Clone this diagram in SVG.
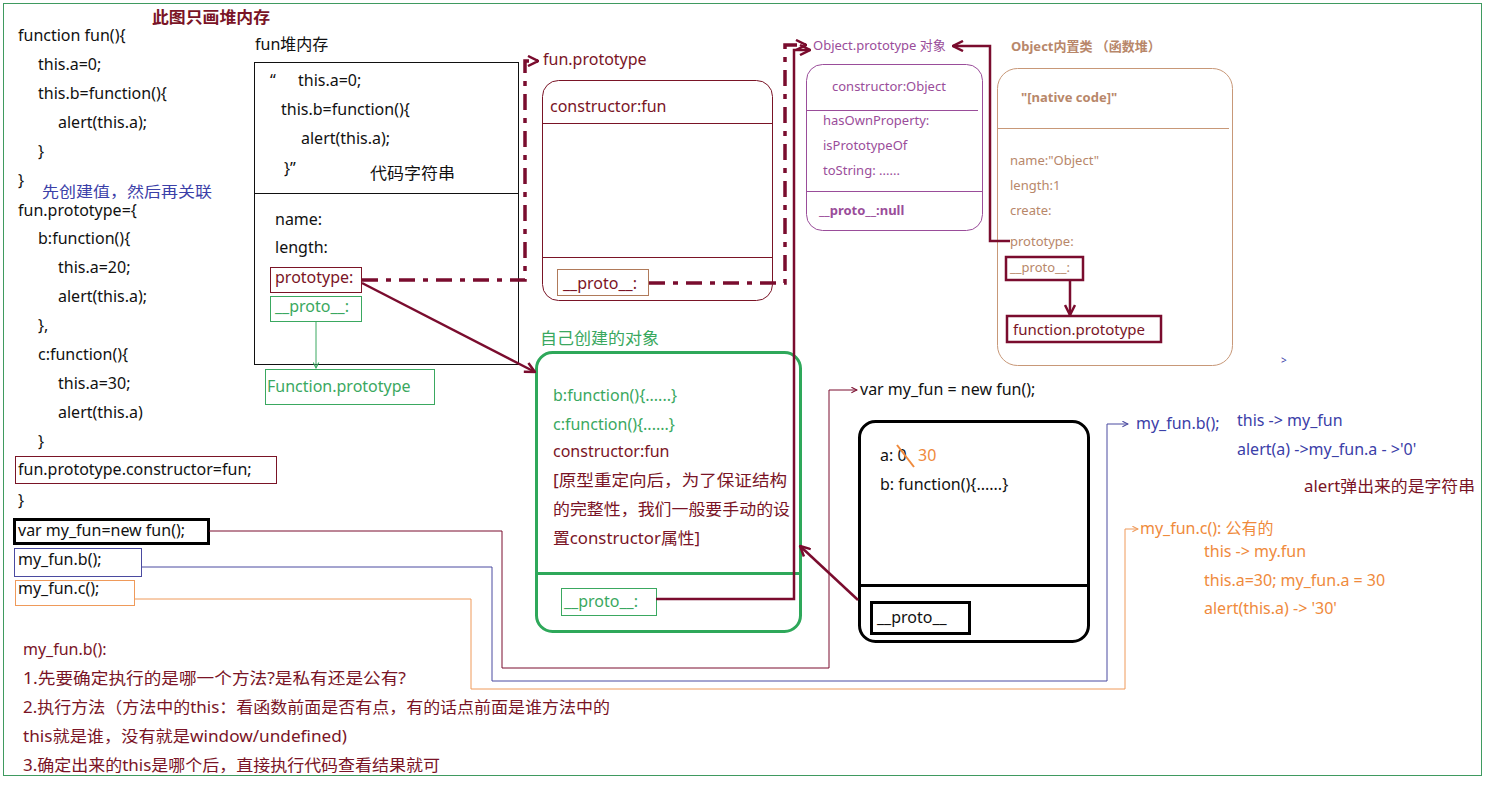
<svg xmlns="http://www.w3.org/2000/svg" width="1495" height="787" viewBox="0 0 1495 787">
<style>
text{font-family:"Noto Sans","Noto Sans CJK SC",sans-serif;font-size:16px;fill:#111}
.s13{font-size:13px}
.s15{font-size:15px}
.mr{fill:#7a1426}
.gr{fill:#3aa860}
.bl{fill:#3b40a8}
.or{fill:#ef8a3c}
.pu{fill:#9a4d9a}
.tn{fill:#b8876a}
.b{font-weight:bold}
.box{fill:none}
</style>
<defs>
<marker id="am" viewBox="0 0 12 12" refX="11" refY="6" markerWidth="12" markerHeight="12" markerUnits="userSpaceOnUse" orient="auto"><path d="M1,1 L11,6 L1,11" fill="none" stroke="#7a0c2e" stroke-width="2.5"/></marker>
<marker id="amt" viewBox="0 0 10 10" refX="9" refY="5" markerWidth="7" markerHeight="7" markerUnits="userSpaceOnUse" orient="auto"><path d="M1,1 L9,5 L1,9" fill="none" stroke="#7a0c2e" stroke-width="1.5"/></marker>
<marker id="abt" viewBox="0 0 10 10" refX="9" refY="5" markerWidth="7" markerHeight="7" markerUnits="userSpaceOnUse" orient="auto"><path d="M1,1 L9,5 L1,9" fill="none" stroke="#4a4aa0" stroke-width="1.5"/></marker>
<marker id="aot" viewBox="0 0 10 10" refX="9" refY="5" markerWidth="7" markerHeight="7" markerUnits="userSpaceOnUse" orient="auto"><path d="M1,1 L9,5 L1,9" fill="none" stroke="#ef9a5a" stroke-width="1.5"/></marker>
<marker id="agt" viewBox="0 0 10 10" refX="9" refY="5" markerWidth="7" markerHeight="7" markerUnits="userSpaceOnUse" orient="auto"><path d="M1,1 L9,5 L1,9" fill="none" stroke="#3aa860" stroke-width="1.5"/></marker>
</defs>
<rect x="0" y="0" width="1495" height="787" fill="#fff"/>
<rect x="3.5" y="3.5" width="1478" height="772" fill="none" stroke="#3f9a60" stroke-width="1"/>

<g id="title"><text x="152" y="23" class="b mr" textLength="118" lengthAdjust="spacingAndGlyphs">此图只画堆内存</text></g>

<g id="code">
<text x="18" y="41">function fun(){</text>
<text x="38" y="70">this.a=0;</text>
<text x="38" y="99">this.b=function(){</text>
<text x="58" y="128">alert(this.a);</text>
<text x="38" y="157">}</text>
<text x="18" y="186">}</text>
<text x="42" y="197" class="s15 bl" textLength="170" lengthAdjust="spacingAndGlyphs">先创建值，然后再关联</text>
<text x="18" y="216">fun.prototype={</text>
<text x="38" y="244">b:function(){</text>
<text x="58" y="273">this.a=20;</text>
<text x="58" y="302">alert(this.a);</text>
<text x="38" y="331">},</text>
<text x="38" y="360">c:function(){</text>
<text x="58" y="389">this.a=30;</text>
<text x="58" y="418">alert(this.a)</text>
<text x="38" y="447">}</text>
<text x="18" y="506">}</text>
</g>
<g id="code-constructor"><rect x="15.5" y="456.5" width="261" height="27" class="box" stroke="#7a1426"/><text x="18" y="475">fun.prototype.constructor=fun;</text></g>
<g id="code-new"><rect x="14.5" y="519.5" width="194" height="24" class="box" stroke="#000" stroke-width="3"/><text x="18" y="536">var my_fun=new fun();</text></g>
<g id="code-b"><rect x="14.5" y="548.5" width="127" height="28" class="box" stroke="#4a4aa0"/><text x="18" y="565">my_fun.b();</text></g>
<g id="code-c"><rect x="15.5" y="580.5" width="119" height="25" class="box" stroke="#ef9a5a"/><text x="18" y="594">my_fun.c();</text></g>

<g id="fun-heap">
<text x="255" y="50">fun堆内存</text>
<rect x="254.5" y="62.5" width="264" height="302" class="box" stroke="#111"/>
<line x1="254" y1="193.5" x2="518" y2="193.5" stroke="#111"/>
<text x="270" y="86">“</text><text x="298" y="86">this.a=0;</text>
<text x="281" y="115">this.b=function(){</text>
<text x="301" y="144">alert(this.a);</text>
<text x="284" y="174">}”</text>
<text x="370" y="179" textLength="85" lengthAdjust="spacingAndGlyphs">代码字符串</text>
<text x="275" y="225">name:</text>
<text x="275" y="253">length:</text>
<rect x="270.5" y="267.5" width="91" height="25" class="box" stroke="#7a1426"/>
<text x="275" y="283" class="mr">prototype:</text>
<rect x="270.5" y="296.5" width="91" height="25" class="box" stroke="#3aa860"/>
<text x="275" y="312" class="gr">__proto__:</text>
</g>
<g id="function-prototype"><rect x="265.5" y="369.5" width="169" height="35" class="box" stroke="#3aa860"/><text x="267" y="392" class="gr">Function.prototype</text></g>

<g id="fun-prototype">
<text x="543" y="65" class="mr">fun.prototype</text>
<rect x="542.5" y="80.5" width="230" height="220" rx="16" class="box" stroke="#7a1426"/>
<line x1="542" y1="123.5" x2="772" y2="123.5" stroke="#7a1426"/>
<line x1="542" y1="257.5" x2="772" y2="257.5" stroke="#7a1426"/>
<text x="550" y="112" class="mr">constructor:fun</text>
<rect x="557.5" y="269.5" width="91" height="26" class="box" stroke="#b07a5a"/>
<text x="563" y="289" class="mr">__proto__:</text>
</g>

<g id="object-prototype">
<text x="813" y="50" class="s13 pu">Object.prototype 对象</text>
<rect x="806.5" y="64.5" width="176" height="166" rx="16" class="box" stroke="#9a4d9a"/>
<line x1="806" y1="110.5" x2="978" y2="110.5" stroke="#9a4d9a"/>
<line x1="806" y1="191.5" x2="982" y2="191.5" stroke="#9a4d9a"/>
<text x="832" y="91" class="s13 pu">constructor:Object</text>
<text x="823" y="125" class="s13 pu">hasOwnProperty:</text>
<text x="823" y="150" class="s13 pu">isPrototypeOf</text>
<text x="823" y="175" class="s13 pu">toString:   ......</text>
<text x="819" y="215" class="s13 pu b">__proto__:null</text>
</g>

<g id="object-builtin">
<text x="1011" y="51" class="s13 tn b">Object内置类  （函数堆）</text>
<rect x="997.5" y="68.5" width="235" height="297" rx="20" class="box" stroke="#c89878"/>
<line x1="998" y1="128.5" x2="1229" y2="128.5" stroke="#c89878"/>
<text x="1021" y="102" class="s13 tn b">"[native code]"</text>
<text x="1010" y="165" class="s13 tn">name:"Object"</text>
<text x="1010" y="190" class="s13 tn">length:1</text>
<text x="1010" y="215" class="s13 tn">create:</text>
<text x="1010" y="246" class="s13 tn">prototype:</text>
<rect x="1006" y="257" width="77" height="23" class="box" stroke="#7a0c2e" stroke-width="2.5"/>
<text x="1010" y="272" class="s13 tn">__proto__:</text>
</g>
<g id="function-prototype-2"><rect x="1007" y="316" width="154" height="26" class="box" stroke="#7a0c2e" stroke-width="2.5"/><text x="1013" y="335" class="s15 mr">function.prototype</text></g>

<g id="own-object">
<text x="540" y="344" class="gr" textLength="119" lengthAdjust="spacingAndGlyphs">自己创建的对象</text>
<rect x="536.5" y="352.5" width="264" height="279" rx="16" class="box" stroke="#2ea85a" stroke-width="3"/>
<line x1="536" y1="573.5" x2="800" y2="573.5" stroke="#2ea85a" stroke-width="3"/>
<text x="553" y="401" class="gr">b:function(){......}</text>
<text x="553" y="430" class="gr">c:function(){......}</text>
<text x="553" y="457" class="mr">constructor:fun</text>
<text x="553" y="486" class="mr" textLength="234" lengthAdjust="spacingAndGlyphs">[原型重定向后，为了保证结构</text>
<text x="553" y="515" class="mr" textLength="237" lengthAdjust="spacingAndGlyphs">的完整性，我们一般要手动的设</text>
<text x="553" y="544" class="mr" textLength="147" lengthAdjust="spacingAndGlyphs">置constructor属性]</text>
<rect x="561.5" y="588.5" width="95" height="27" class="box" stroke="#3aa860"/>
<text x="564" y="607" class="gr">__proto__:</text>
</g>

<g id="my-fun">
<text x="860" y="395">var my_fun = new fun();</text>
<rect x="859.5" y="421.5" width="229" height="220" rx="16" class="box" stroke="#000" stroke-width="3"/>
<line x1="859" y1="585.5" x2="1088" y2="585.5" stroke="#000" stroke-width="3"/>
<text x="880" y="461">a: 0</text>
<text x="918" y="461" class="or">30</text>
<line x1="897" y1="445" x2="914" y2="467" stroke="#ef8a3c" stroke-width="2"/>
<text x="880" y="490">b: function(){......}</text>
<rect x="871.5" y="602.5" width="98" height="31" class="box" stroke="#000" stroke-width="3"/>
<text x="877" y="623">__proto__</text>
</g>

<g id="notes-right">
<text x="1136" y="429" class="bl">my_fun.b();</text>
<text x="1237" y="426" class="bl">this -&gt; my_fun</text>
<text x="1237" y="455" class="bl">alert(a) -&gt;my_fun.a - &gt;'0'</text>
<text x="1304" y="492" class="mr" textLength="171" lengthAdjust="spacingAndGlyphs">alert弹出来的是字符串</text>
<text x="1140" y="534" class="or">my_fun.c(): 公有的</text>
<text x="1204" y="557" class="or">this -&gt; my.fun</text>
<text x="1204" y="586" class="or">this.a=30; my_fun.a = 30</text>
<text x="1204" y="614" class="or">alert(this.a) -&gt; '30'</text>
<text x="1281" y="364" style="font-size:10px" class="bl">&gt;</text>
</g>

<g id="notes-bottom">
<text x="23" y="655" class="mr">my_fun.b():</text>
<text x="23" y="684" class="mr" textLength="383" lengthAdjust="spacingAndGlyphs">1.先要确定执行的是哪一个方法?是私有还是公有?</text>
<text x="23" y="713" class="mr" textLength="587" lengthAdjust="spacingAndGlyphs">2.执行方法（方法中的this：看函数前面是否有点，有的话点前面是谁方法中的</text>
<text x="23" y="742" class="mr" textLength="324" lengthAdjust="spacingAndGlyphs">this就是谁，没有就是window/undefined)</text>
<text x="23" y="771" class="mr" textLength="417" lengthAdjust="spacingAndGlyphs">3.确定出来的this是哪个后，直接执行代码查看结果就可</text>
</g>

<g id="connectors" fill="none">
<path d="M362,280 H525 V61 H538" stroke="#7a0c2e" stroke-width="3.5" stroke-dasharray="16 8 5 8" marker-end="url(#am)"/>
<path d="M649,283 H785 V45 H806" stroke="#7a0c2e" stroke-width="3.5" stroke-dasharray="16 8 5 8" marker-end="url(#am)"/>
<path d="M656,599 H794 V50 H810" stroke="#7a0c2e" stroke-width="2.5" marker-end="url(#am)"/>
<path d="M1010,241 H990 V46 H953" stroke="#7a0c2e" stroke-width="2.5" marker-end="url(#am)"/>
<path d="M1070,280 V315" stroke="#7a0c2e" stroke-width="2.5" marker-end="url(#am)"/>
<path d="M362,283 L535,372" stroke="#7a0c2e" stroke-width="2.5" marker-end="url(#am)"/>
<path d="M858,600 L800,546" stroke="#7a0c2e" stroke-width="2.5" marker-end="url(#am)"/>
<path d="M316,322 V368" stroke="#3aa860" stroke-width="1" marker-end="url(#agt)"/>
<path d="M209,531 H502 V668 H829 V390 H857" stroke="#7a0c2e" stroke-width="1" marker-end="url(#amt)"/>
<path d="M142,567 H492 V681 H1107 V424 H1128" stroke="#4a4aa0" stroke-width="1" marker-end="url(#abt)"/>
<path d="M135,599 H471 V689 H1125 V529 H1138" stroke="#ef9a5a" stroke-width="1" marker-end="url(#aot)"/>
</g>
</svg>
